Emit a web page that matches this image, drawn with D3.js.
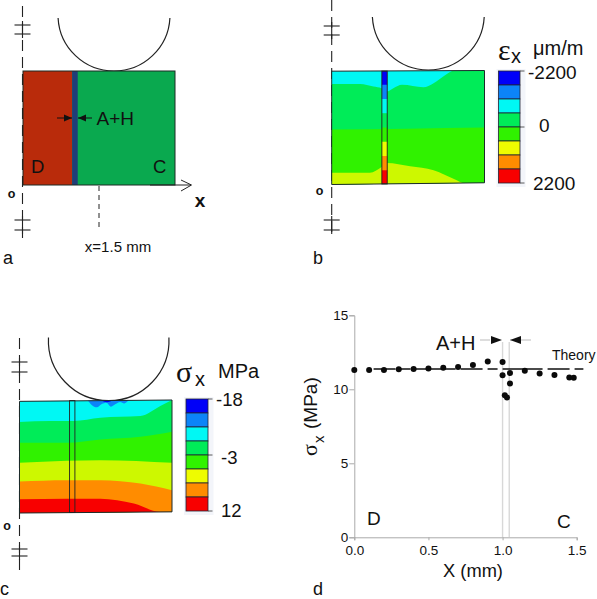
<!DOCTYPE html>
<html><head><meta charset="utf-8">
<script src="https://cdn.jsdelivr.net/npm/d3@7"></script>
<style>html,body{margin:0;background:#fff}svg{display:block}text{font-family:"Liberation Sans",Arial,sans-serif;fill:#111}</style>
</head><body><script>
// ---------- Data ----------
const bandColors=["#0000f8","#0c84f8","#00f8f4","#00ec58","#30f200","#eefc00","#ff8c00","#f80000"];
const fieldYellow="#cdf800";
const legendB=["-2200","0","2200"];
const legendC=["-18","-3","12"];
// panel b contour boundaries [mm, depth %]
const bCyan=[[0,11.8],[.56,11.8],[.82,14.1],[.98,15.6],[1.08,18.5],[1.21,15.6],[1.38,12.6],[1.8,14.7],[2,11.2],[2.19,5.3],[2.42,0],[3,0]];
const bGreen=[[0,51.8],[1.5,51],[3,50]];
const bYellow=[[0,89.7],[.75,89.7],[.98,84.7],[1.08,81.2],[1.54,84.1],[2,87.6],[2.39,95],[2.65,99.4],[3,99.4]];
const bOutline=[[0,.6],[3,0],[3,98.5],[0,100]];
// panel c contour boundaries
const cBlob=[[1.34,0],[1.42,4.4],[1.52,6.5],[1.62,3.6],[1.71,2.4],[1.8,5.9],[1.89,3.6],[1.98,1.8],[2.06,3],[2.15,0]];
const cDark=[[1.59,0],[1.72,2],[1.85,0]];
const cCyan=[[0,19.5],[.6,18.6],[1.06,18.6],[1.59,15.7],[2.38,14.2],[2.77,5.3],[3,0]];
const cGreen1=[[0,37.9],[.93,37.9],[1.59,34.9],[2.38,32.5],[3,28.1]];
const cGreen2=[[0,55.6],[.93,53.8],[1.59,53.3],[3,55.6]];
const cYellow=[[0,72.2],[.93,71],[1.59,71],[2.38,74],[3,79.9]];
const cOrange=[[0,87.9],[.93,87.3],[1.59,87.3],[2.25,91.7],[2.77,99],[3,99]];
const cOutline=[[0,1.2],[3,0],[3,99],[0,100]];
// panel d measurements: X (mm), stress (MPa)
const stressX=[0,.1,.2,.3,.4,.5,.6,.7,.8,.9,1,1,1.015,1.03,1.05,1.05,1.15,1.25,1.35,1.45,1.48];
const stressY=[11.3,11.3,11.3,11.35,11.37,11.4,11.45,11.5,11.65,11.87,11.85,10.95,9.6,9.45,11.1,10.4,11.25,11.07,10.97,10.8,10.78];
const theory=11.37;
const xTicks=[0,.5,1,1.5], yTicks=[0,5,10,15];

// ---------- Canvas ----------
const svg=d3.select("body").append("svg").attr("width",597).attr("height",599);
const defs=svg.append("defs");
const txt=(x,y,s,size,o={})=>svg.append("text").attr("x",x).attr("y",y).text(s).attr("font-size",size)
  .attr("text-anchor",o.anchor||"start").attr("font-weight",o.weight||null).style("font-family",o.family||null);
const ln=(x1,y1,x2,y2,c="#111",w=1,dash=null)=>svg.append("line").attr("x1",x1).attr("y1",y1).attr("x2",x2).attr("y2",y2)
  .attr("stroke",c).attr("stroke-width",w).attr("stroke-dasharray",dash);
const tri=(tipX,y,dir,len=11,h=4,fill="#111")=>svg.append("path").attr("fill",fill)
  .attr("d",d3.line()([[tipX,y],[tipX-dir*len,y-h],[tipX-dir*len,y+h]])+"Z");

function symmetryAxis(x,y0,y1,marks,ox,oy){
  ln(x,y0,x,y1,"#222",1.1,"11 6");
  marks.forEach(([m0,m1,dx])=>{
    ln(x-8+dx,m0,x+8+dx,m0,"#222",1.1);ln(x-8+dx,m1,x+8+dx,m1,"#222",1.1);ln(x,m0-4,x,m1+4,"#222",1.1);
  });
  txt(ox,oy,"o",12.5,{anchor:"middle",weight:"bold"});
}
function roller(cx,cy,r,topY){
  const a=Math.acos((topY-cy)/r);
  svg.append("path").attr("fill","none").attr("stroke","#222").attr("stroke-width",1.2)
    .attr("transform",`translate(${cx},${cy})`)
    .attr("d",d3.arc().innerRadius(r).outerRadius(r).startAngle(a).endAngle(2*Math.PI-a)());
}
function contourPanel(id,box,outline,layers,strip){
  const x=d3.scaleLinear([0,3],[box.x0,box.x1]), y=d3.scaleLinear([0,100],[box.y0,box.y1]);
  defs.append("clipPath").attr("id",id).append("path").attr("d",d3.line(d=>x(d[0]),d=>y(d[1]))(outline)+"Z");
  const g=svg.append("g").attr("clip-path",`url(#${id})`);
  const area=d3.area().x(d=>x(d[0])).y0(y(100)+4).y1(d=>y(d[1])).curve(d3.curveMonotoneX);
  g.append("rect").attr("x",x(0)).attr("y",y(0)-4).attr("width",x(3)-x(0)).attr("height",y(100)-y(0)+8).attr("fill",layers[0]);
  layers[1].forEach(([b,c])=>g.append("path").attr("d",area(b)).attr("fill",c));
  const top=d3.area().x(d=>x(d[0])).y0(y(0)-4).y1(d=>y(d[1])).curve(d3.curveMonotoneX);
  (layers[2]||[]).forEach(([b,c])=>g.append("path").attr("d",top(b)).attr("fill",c));
  if(strip.fill){
    const s=d3.scaleBand(d3.range(8),[y(0),y(100)]);
    g.selectAll(null).data(bandColors).join("rect").attr("x",x(.985)).attr("width",x(1.09)-x(.985))
      .attr("y",(d,i)=>s(i)).attr("height",s.bandwidth()+.5).attr("fill",d=>d);
  }
  svg.append("path").attr("d",d3.line(d=>x(d[0]),d=>y(d[1]))(outline)+"Z").attr("fill","none").attr("stroke","#1c2a2a").attr("stroke-width",1);
  svg.append("rect").attr("x",x(.985)).attr("y",y(.5)).attr("width",x(1.09)-x(.985)).attr("height",y(99.5)-y(.5)).attr("fill","none").attr("stroke","#222").attr("stroke-width",.9);
}
function colorLegend(b,labels,ys){
  svg.append("rect").attr("x",b.x0-2).attr("y",b.y0-2).attr("width",b.x1-b.x0+b.tick+3).attr("height",b.y1-b.y0+6).attr("fill","#f3f5fa");
  const s=d3.scaleBand(d3.range(8),[b.y0,b.y1]);
  svg.selectAll(null).data(bandColors).join("rect").attr("x",b.x0).attr("width",b.x1-b.x0)
    .attr("y",(d,i)=>s(i)).attr("height",s.bandwidth()).attr("fill",d=>d).attr("stroke","#223").attr("stroke-width",.8);
  [b.y0,(b.y0+b.y1)/2,b.y1].forEach(v=>ln(b.x1,v,b.x1+b.tick,v,"#333",.8));
  labels.forEach((l,i)=>txt(ys[i][0],ys[i][1],l,b.size));
}

// ---------- Panel a ----------
const ax=d3.scaleLinear([0,3],[23,175]);
symmetryAxis(22.5,6,243,[[25,34,0],[220,230,0]],11.5,198);
roller(114,15,56,12);
svg.append("rect").attr("x",ax(0)).attr("y",71).attr("width",ax(3)-ax(0)).attr("height",114).attr("fill","#0aa94f");
svg.append("rect").attr("x",ax(0)).attr("y",71).attr("width",ax(.97)-ax(0)).attr("height",114).attr("fill","#b92b0b");
svg.append("rect").attr("x",ax(.97)).attr("y",71).attr("width",ax(1.08)-ax(.97)).attr("height",114).attr("fill","#203d78");
svg.append("rect").attr("x",ax(0)).attr("y",71).attr("width",ax(3)-ax(0)).attr("height",114).attr("fill","none").attr("stroke","#1d2b24").attr("stroke-width",1);
ln(57,118,72,118);tri(72,118,1,8,3.5);ln(78,118,92,118);tri(78,118,-1,8,3.5);
txt(96.5,125,"A+H",19);txt(31,173,"D",18.5);txt(153,173,"C",18.5);
ln(150,185,191,185,"#222",1);
svg.append("path").attr("fill","none").attr("stroke","#222").attr("stroke-width",1).attr("d",d3.line()([[181,180],[191.5,185],[181,191]]));
txt(200,207,"x",19,{anchor:"middle",weight:"bold"});
ln(ax(1.5),186,ax(1.5),231,"#222",1,"5 4");
txt(118,252,"x=1.5 mm",15,{anchor:"middle"});
txt(3,264,"a",18);

// ---------- Panel b ----------
symmetryAxis(331.7,0,237,[[26,35,0],[220,230,0]],319.5,195);
roller(428.3,14,56,11);
contourPanel("pb",{x0:331.7,x1:484.5,y0:70.5,y1:184.5},bOutline,
  [bandColors[2],[[bCyan,bandColors[3]],[bGreen,bandColors[4]],[bYellow,fieldYellow]]],{fill:true});
colorLegend({x0:498.5,x1:520,y0:71,y1:183,tick:4.5,size:19},legendB,[[528,79],[539,132],[533,190]]);
txt(498,60,"ε",30,{family:"Liberation Serif"});txt(511,63,"x",20);
txt(533,55,"μm/m",20);
txt(313,264,"b",18);

// ---------- Panel c ----------
symmetryAxis(19.5,338,575,[[362,372,0],[549,556,0]],7,530);
roller(108.7,340.4,60.3,343.3);
contourPanel("pc",{x0:19.5,x1:172,y0:400,y1:513},cOutline,
  [bandColors[2],[[cCyan,bandColors[3]],[cGreen1,bandColors[4]],[cGreen2,fieldYellow],[cYellow,bandColors[6]],[cOrange,bandColors[7]]],
  [[cBlob,bandColors[1]],[cDark,bandColors[0]]]],{fill:false});
colorLegend({x0:186,x1:208,y0:399,y1:511,tick:4.5,size:18.5},legendC,[[216,406],[221,464],[221,517]]);
txt(176,382,"σ",30,{family:"Liberation Serif"});txt(195,386,"x",20);
txt(218,378,"MPa",20);
txt(0,595,"c",18);

// ---------- Panel d ----------
const dx=d3.scaleLinear([0,1.5],[354.3,576.7]), dy=d3.scaleLinear([0,15],[537.3,315.3]);
const gx=svg.append("g").attr("transform","translate(0,537.3)").call(d3.axisBottom(dx).tickValues(xTicks).tickFormat(d3.format(".1f")).tickSize(3).tickPadding(5));
const gy=svg.append("g").attr("transform","translate(354.3,0)").call(d3.axisLeft(dy).tickValues(yTicks).tickSize(5).tickPadding(1));
[gx,gy].forEach(g=>{g.selectAll("path,line").attr("stroke","#aaa");g.selectAll("text").attr("font-size",13.5).style("font-family",'"Liberation Sans"').attr("fill","#222");});
[1,1.045].forEach(v=>ln(dx(v),342,dx(v),537,"#d8d8d8",1.4));
ln(dx(0.13),dy(theory),dx(1.545),dy(theory),"#111",1.4,"22 5 10 5 40 5");
svg.selectAll(null).data(stressX).join("circle").attr("cx",d=>dx(d)).attr("cy",(d,i)=>dy(stressY[i])).attr("r",3).attr("fill","#0a0a0a");
ln(480,340,490,340,"#bbb",1);tri(502,340,1,11,4);
ln(510,340,531,340,"#bbb",1);tri(510,340,-1,11,4);
txt(436,350,"A+H",20);
txt(552,360,"Theory",14);
txt(367,525,"D",19);txt(557,528,"C",19);
txt(473,577,"X (mm)",18.3,{anchor:"middle"});
const yt=svg.append("g").attr("transform","translate(316.5,456) rotate(-90)");
yt.append("text").attr("x",0).attr("y",0).text("σ").attr("font-size",22).style("font-family",'"Liberation Serif"');
yt.append("text").attr("x",13).attr("y",7.5).text("x").attr("font-size",15);
yt.append("text").attr("x",27).attr("y",0).text("(MPa)").attr("font-size",19);
txt(313,595,"d",18);
</script></body></html>
